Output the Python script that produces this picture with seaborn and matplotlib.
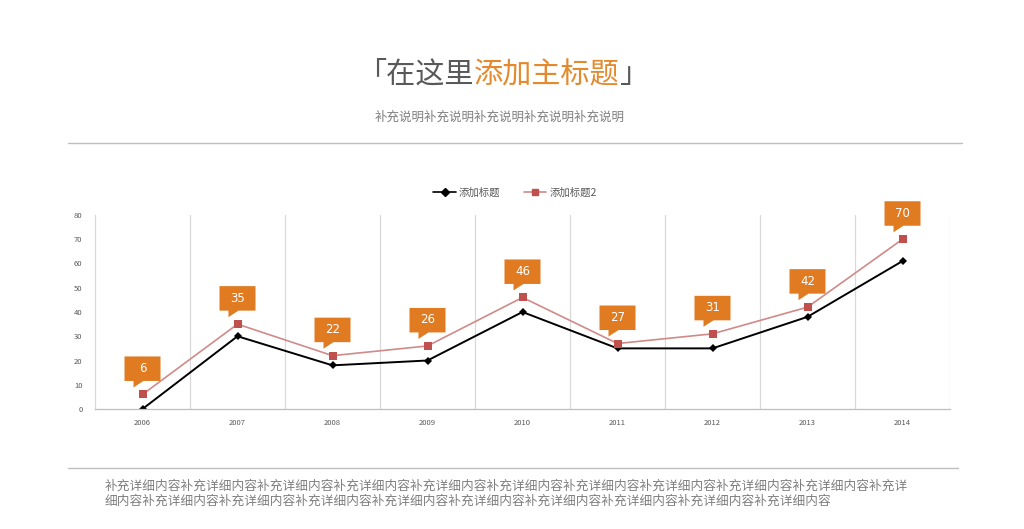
import matplotlib
matplotlib.use("Agg")
import matplotlib.pyplot as plt
import matplotlib.transforms as mtransforms
from matplotlib.patches import Polygon
from matplotlib.lines import Line2D
import seaborn as sns
import pandas as pd

sns.set_theme(style="white")
plt.rcParams['font.family'] = ['Noto Sans CJK SC', 'DejaVu Sans']

# ---- data ----
years = ["2006", "2007", "2008", "2009", "2010", "2011", "2012", "2013", "2014"]
series1_name = "添加标题"
series2_name = "添加标题2"
series1 = [0, 30, 18, 20, 40, 25, 25, 38, 61]
series2 = [6, 35, 22, 26, 46, 27, 31, 42, 70]
y_ticks = [0, 10, 20, 30, 40, 50, 60, 70, 80]
title_gray1 = "「在这里"
title_orange = "添加主标题"
title_gray2 = "」"
subtitle = "补充说明补充说明补充说明补充说明补充说明"
body_unit = "补充详细内容"

GRAY = "#595959"
ORANGE = "#E4892E"
BOX = "#E07B22"
RED = "#C0504D"

idx = list(range(len(years)))
df = pd.DataFrame({
    "idx": idx + idx,
    "value": series1 + series2,
    "series": [series1_name] * len(years) + [series2_name] * len(years),
})

fig = plt.figure(figsize=(10.24, 5.29), dpi=100)
ax = fig.add_axes([95 / 1024, 1 - 409 / 529, (950 - 95) / 1024, (409 - 215) / 529])

sns.lineplot(data=df, x="idx", y="value", hue="series", style="series",
             palette={series1_name: "black", series2_name: RED},
             markers={series1_name: "D", series2_name: "s"},
             dashes=False, markersize=5, markeredgewidth=0, ax=ax, legend=False)
for ln, lw in zip(ax.lines[:2], [1.4, 1.2]):
    ln.set_linewidth(lw)
ax.lines[1].set_color("#D08A88")
ax.lines[1].set_markerfacecolor(RED)
ax.lines[1].set_markeredgecolor(RED)
ax.lines[0].set_markersize(4.5)
ax.lines[1].set_markersize(6)

ax.set_xlim(-0.5, len(years) - 0.5)
ax.set_ylim(0, 80)
ax.set_xticks(idx)
ax.set_xticklabels(years)
ax.set_yticks(y_ticks)
ax.set_xticks([i + 0.5 for i in idx], minor=True)
ax.grid(False)
ax.grid(True, which="minor", axis="x", color="#d9d9d9", linewidth=0.9)
ax.tick_params(axis="both", which="both", length=0, labelsize=5.5, colors=GRAY)
ax.tick_params(axis="y", pad=9)
ax.tick_params(axis="x", pad=7)
ax.set_xlabel("")
ax.set_ylabel("")
for s in ["top", "right"]:
    ax.spines[s].set_visible(False)
ax.spines["left"].set_color("#d9d9d9")
ax.spines["bottom"].set_color("#bfbfbf")
ax.spines["left"].set_linewidth(0.9)
ax.spines["bottom"].set_linewidth(0.9)

# callouts
verts = [(-0.18, 0.135), (-0.09, 0.135), (-0.09, 0.07), (0.01, 0.135),
         (0.18, 0.135), (0.18, 0.38), (-0.18, 0.38)]
for x, v in zip(idx, series2):
    tr = fig.dpi_scale_trans + mtransforms.ScaledTranslation(x, v, ax.transData)
    ax.add_patch(Polygon(verts, closed=True, facecolor=BOX, edgecolor="none",
                         transform=tr, clip_on=False, zorder=5))
    ax.text(0, 0.26, str(v), transform=tr, ha="center", va="center",
            color="white", fontsize=8.5, zorder=6, family=['DejaVu Sans'])

# legend
handles = [Line2D([0], [0], color="black", marker="D", markersize=4, lw=1.2),
           Line2D([0], [0], color="#D08A88", marker="s", markersize=5,
                  markerfacecolor=RED, markeredgecolor=RED, lw=1.2)]
fig.legend(handles, [series1_name, series2_name], loc="center",
           bbox_to_anchor=(515 / 1024, 1 - 193 / 529), ncol=2, frameon=False,
           fontsize=7.5, handlelength=2.2, columnspacing=2.2, handletextpad=0.3,
           labelcolor=GRAY)

# title pieces
fig.canvas.draw()
renderer = fig.canvas.get_renderer()
ty = 1 - 75 / 529
pieces = [(title_gray1, GRAY), (title_orange, ORANGE), (title_gray2, GRAY)]
texts = [fig.text(0, ty, p, color=c, fontsize=21, va="center", ha="left") for p, c in pieces]
widths = [t.get_window_extent(renderer).width for t in texts]
x0 = (503 - sum(widths) / 2)
for t, w in zip(texts, widths):
    t.set_x(x0 / 1024)
    x0 += w

fig.text(500 / 1024, 1 - 117 / 529, subtitle, color="#7f7f7f", fontsize=9,
         ha="center", va="center")

# separator lines
fig.add_artist(Line2D([68 / 1024, 962 / 1024], [1 - 143 / 529] * 2, color="#bfbfbf", lw=1.0))
fig.add_artist(Line2D([68 / 1024, 958 / 1024], [1 - 468 / 529] * 2, color="#bfbfbf", lw=1.0))

body = body_unit * 20
fig.text(105 / 1024, 1 - 486 / 529, body[:63], color="#7f7f7f", fontsize=9.15,
         ha="left", va="center")
fig.text(105 / 1024, 1 - 501 / 529, body[63:], color="#7f7f7f", fontsize=9.15,
         ha="left", va="center")

fig.savefig("out.png", dpi=100)
